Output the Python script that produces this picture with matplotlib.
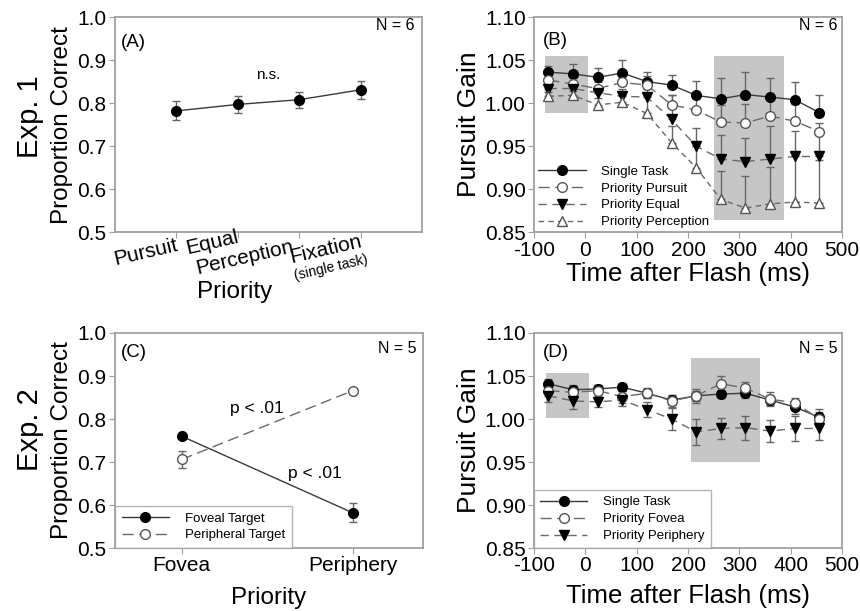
import matplotlib.pyplot as plt
from matplotlib.patches import Rectangle

plt.rcParams['font.family'] = ['Liberation Sans', 'DejaVu Sans']
plt.rcParams['axes.unicode_minus'] = False

# Exp. 1 - desempenho perceptual
prioridades_a = ['Pursuit', 'Equal', 'Perception', 'Fixation']
prop_a = [0.782, 0.797, 0.808, 0.831]
erro_a = [0.022, 0.020, 0.019, 0.021]

# tempos (ms) depois do flash
tempo = [-72, -24, 24, 72, 120, 168, 216, 264, 312, 360, 408, 456]

# Exp. 1 - ganho da perseguicao
b_single = [1.036, 1.034, 1.030, 1.035, 1.025, 1.021, 1.009, 1.005, 1.010, 1.007, 1.004, 0.989]
b_single_err = [0.007, 0.011, 0.011, 0.015, 0.011, 0.012, 0.017, 0.024, 0.026, 0.022, 0.021, 0.020]
b_pursuit = [1.027, 1.022, 1.017, 1.024, 1.021, 0.998, 0.992, 0.978, 0.977, 0.985, 0.979, 0.967]
b_pursuit_err = [0.006, 0.008, 0.008, 0.010, 0.010, 0.012, 0.015, 0.020, 0.022, 0.020, 0.020, 0.010]
b_equal = [1.017, 1.017, 1.012, 1.008, 1.007, 0.981, 0.950, 0.935, 0.932, 0.935, 0.938, 0.938]
b_equal_err = [0.006, 0.006, 0.008, 0.008, 0.010, 0.028, 0.021, 0.028, 0.028, 0.038, 0.030, 0.030]
b_percep = [1.008, 1.009, 0.998, 1.001, 0.988, 0.954, 0.925, 0.888, 0.878, 0.883, 0.885, 0.884]
b_percep_err = [0.005, 0.005, 0.008, 0.008, 0.020, 0.020, 0.025, 0.033, 0.037, 0.043, 0.055, 0.050]

# Exp. 2 - desempenho perceptual
prioridades_c = ['Fovea', 'Periphery']
foveal = [0.760, 0.582]
foveal_err = [0.006, 0.022]
periferico = [0.706, 0.866]
periferico_err = [0.019, 0.004]

# Exp. 2 - ganho da perseguicao
d_single = [1.041, 1.034, 1.035, 1.037, 1.030, 1.022, 1.027, 1.029, 1.030, 1.022, 1.014, 1.002]
d_single_err = [0.005, 0.005, 0.005, 0.005, 0.005, 0.006, 0.006, 0.005, 0.005, 0.006, 0.008, 0.010]
d_fovea = [1.033, 1.031, 1.033, 1.026, 1.030, 1.021, 1.027, 1.041, 1.036, 1.023, 1.019, 1.000]
d_fovea_err = [0.006, 0.007, 0.006, 0.007, 0.006, 0.007, 0.008, 0.009, 0.007, 0.008, 0.005, 0.008]
d_periph = [1.027, 1.021, 1.020, 1.022, 1.011, 1.000, 0.985, 0.989, 0.990, 0.986, 0.989, 0.989]
d_periph_err = [0.007, 0.009, 0.006, 0.007, 0.009, 0.013, 0.015, 0.012, 0.014, 0.013, 0.014, 0.013]

# janelas sombreadas (x0, x1, y0, y1)
sombra_b = [(-78, 5, 0.989, 1.055), (250, 387, 0.864, 1.055)]
sombra_d = [(-77, 8, 1.001, 1.054), (205, 341, 0.950, 1.071)]

cinza = '#a0a0a0'
linha = '#3a3a3a'
tracejado = '#6a6a6a'
barra = '#666666'
tam_tick = 15


def moldura(ax):
    for s in ax.spines.values():
        s.set_color(cinza)
        s.set_linewidth(1.3)
    ax.tick_params(direction='out', length=4, color=cinza, labelsize=tam_tick, top=False, right=False, pad=2)


def sombrear(ax, caixas):
    for x0, x1, y0, y1 in caixas:
        ax.add_patch(Rectangle((x0, y0), x1 - x0, y1 - y0, color='#c6c6c6', zorder=0, lw=0))


def legenda(ax, conts, **kw):
    handles = [c.lines[0] for c in conts]
    labels = [c.get_label() for c in conts]
    return ax.legend(handles, labels, loc='lower left', handlelength=3.6, handletextpad=1.2, **kw)


fig = plt.figure(figsize=(8.6, 6.11), dpi=100)

# Grafico A
ax1 = fig.add_axes([0.1337, 0.620, 0.357, 0.352])
pos_a = [1, 2, 3, 4]
ax1.errorbar(pos_a, prop_a, yerr=erro_a, color=linha, lw=1, marker='o', ms=7, mfc='black', mec='black',
             ecolor=barra, elinewidth=1, capsize=3)
ax1.set_xlim(0, 5)
ax1.set_ylim(0.5, 1.0)
ax1.set_xticks(pos_a)
ax1.set_xticklabels([])
ax1.set_yticks([0.5, 0.6, 0.7, 0.8, 0.9, 1.0])
moldura(ax1)
ax1.set_ylabel('Proportion Correct', fontsize=17.5, labelpad=3)
ax1.text(0.02, 0.88, '(A)', transform=ax1.transAxes, fontsize=13.5, va='center')
ax1.text(0.977, 0.963, 'N = 6', transform=ax1.transAxes, fontsize=11.5, ha='right', va='center')
ax1.text(2.5, 0.866, 'n.s.', fontsize=11, ha='center', va='center')
rot = dict(rotation=13, fontsize=15, ha='center', va='center', transform=ax1.get_xaxis_transform())
ax1.text(0.50, -0.094, prioridades_a[0], **rot)
ax1.text(1.58, -0.051, prioridades_a[1], **rot)
ax1.text(2.12, -0.120, prioridades_a[2], **rot)
ax1.text(3.44, -0.082, prioridades_a[3], **rot)
ax1.text(3.52, -0.165, '(single task)', rotation=13, fontsize=10, ha='center', va='center',
         transform=ax1.get_xaxis_transform())
fig.text(235 / 860, 1 - 292 / 611, 'Priority', fontsize=17.5, ha='center', va='center')
fig.text(30 / 860, 1 - 117 / 611, 'Exp. 1', fontsize=21, rotation=90, ha='center', va='center')

# Grafico B
ax2 = fig.add_axes([0.621, 0.620, 0.358, 0.352])
sombrear(ax2, sombra_b)
series_b = [
    (b_single, b_single_err, 'Single Task', 'o', 'black', '-', linha),
    (b_pursuit, b_pursuit_err, 'Priority Pursuit', 'o', 'white', (0, (8, 4)), tracejado),
    (b_equal, b_equal_err, 'Priority Equal', 'v', 'black', (0, (6, 4)), tracejado),
    (b_percep, b_percep_err, 'Priority Perception', '^', 'white', (0, (4, 3)), tracejado),
]
conts_b = []
for y, e, nome, m, cor, ls, lc in series_b:
    c = ax2.errorbar(tempo, y, yerr=[[0] * len(e), e], color=lc, ls=ls, lw=1, marker=m, ms=7,
                     mfc=cor, mec='black' if cor == 'black' else '#555555', ecolor=barra, elinewidth=1,
                     capsize=3, label=nome)
    conts_b.append(c)
ax2.set_xlim(-100, 500)
ax2.set_ylim(0.85, 1.10)
ax2.set_xticks([-100, 0, 100, 200, 300, 400, 500])
ax2.set_yticks([0.85, 0.90, 0.95, 1.00, 1.05, 1.10])
ax2.set_yticklabels([f'{v:.2f}' for v in [0.85, 0.90, 0.95, 1.00, 1.05, 1.10]])
moldura(ax2)
ax2.set_ylabel('Pursuit Gain', fontsize=19, labelpad=3)
ax2.set_xlabel('Time after Flash (ms)', fontsize=18.5, labelpad=2)
ax2.text(0.03, 0.893, '(B)', transform=ax2.transAxes, fontsize=13.5, va='center')
ax2.text(0.984, 0.963, 'N = 6', transform=ax2.transAxes, fontsize=11.5, ha='right', va='center')
legenda(ax2, conts_b, frameon=False, fontsize=9.5, borderaxespad=0.1, labelspacing=0.35, borderpad=0.2)

# Grafico C
ax3 = fig.add_axes([0.1337, 0.103, 0.358, 0.352])
pos_c = [0, 1]
c1 = ax3.errorbar(pos_c, foveal, yerr=foveal_err, color=linha, lw=1, marker='o', ms=7, mfc='black',
                  mec='black', ecolor=barra, elinewidth=1, capsize=3, label='Foveal Target')
c2 = ax3.errorbar(pos_c, periferico, yerr=periferico_err, color=tracejado, lw=1, ls=(0, (8, 4)), marker='o',
                  ms=7, mfc='white', mec='#555555', ecolor=barra, elinewidth=1, capsize=3,
                  label='Peripheral Target')
ax3.set_xlim(-0.39, 1.41)
ax3.set_ylim(0.5, 1.0)
ax3.set_xticks(pos_c)
ax3.set_xticklabels(prioridades_c)
ax3.set_yticks([0.5, 0.6, 0.7, 0.8, 0.9, 1.0])
moldura(ax3)
ax3.set_ylabel('Proportion Correct', fontsize=17.5, labelpad=3)
ax3.set_xlabel('Priority', fontsize=17.5, labelpad=8)
ax3.text(0.02, 0.91, '(C)', transform=ax3.transAxes, fontsize=13.5, va='center')
ax3.text(0.98, 0.93, 'N = 5', transform=ax3.transAxes, fontsize=11.5, ha='right', va='center')
ax3.text(0.44, 0.825, 'p < .01', fontsize=12.5, ha='center', va='center')
ax3.text(0.78, 0.673, 'p < .01', fontsize=12.5, ha='center', va='center')
leg3 = legenda(ax3, [c1, c2], fontsize=9.5, borderaxespad=0, fancybox=False, edgecolor=cinza,
               labelspacing=0.35, borderpad=0.5)
leg3.get_frame().set_linewidth(1)
fig.text(30 / 860, 1 - 430 / 611, 'Exp. 2', fontsize=21, rotation=90, ha='center', va='center')

# Grafico D
ax4 = fig.add_axes([0.621, 0.103, 0.358, 0.352])
sombrear(ax4, sombra_d)
series_d = [
    (d_single, d_single_err, 'Single Task', 'o', 'black', '-', linha),
    (d_fovea, d_fovea_err, 'Priority Fovea', 'o', 'white', (0, (8, 4)), tracejado),
    (d_periph, d_periph_err, 'Priority Periphery', 'v', 'black', (0, (6, 4)), tracejado),
]
conts_d = []
for y, e, nome, m, cor, ls, lc in series_d:
    c = ax4.errorbar(tempo, y, yerr=e, color=lc, ls=ls, lw=1, marker=m, ms=7,
                     mfc=cor, mec='black' if cor == 'black' else '#555555', ecolor=barra, elinewidth=1,
                     capsize=3, label=nome)
    conts_d.append(c)
ax4.set_xlim(-100, 500)
ax4.set_ylim(0.85, 1.10)
ax4.set_xticks([-100, 0, 100, 200, 300, 400, 500])
ax4.set_yticks([0.85, 0.90, 0.95, 1.00, 1.05, 1.10])
ax4.set_yticklabels([f'{v:.2f}' for v in [0.85, 0.90, 0.95, 1.00, 1.05, 1.10]])
moldura(ax4)
ax4.set_ylabel('Pursuit Gain', fontsize=19, labelpad=3)
ax4.set_xlabel('Time after Flash (ms)', fontsize=18.5, labelpad=6)
ax4.text(0.03, 0.907, '(D)', transform=ax4.transAxes, fontsize=13.5, va='center')
ax4.text(0.984, 0.93, 'N = 5', transform=ax4.transAxes, fontsize=11.5, ha='right', va='center')
leg4 = legenda(ax4, conts_d, fontsize=9.5, borderaxespad=0, fancybox=False, edgecolor=cinza,
               labelspacing=0.35, borderpad=0.45)
leg4.get_frame().set_linewidth(1)

plt.savefig('out.png', dpi=100)
